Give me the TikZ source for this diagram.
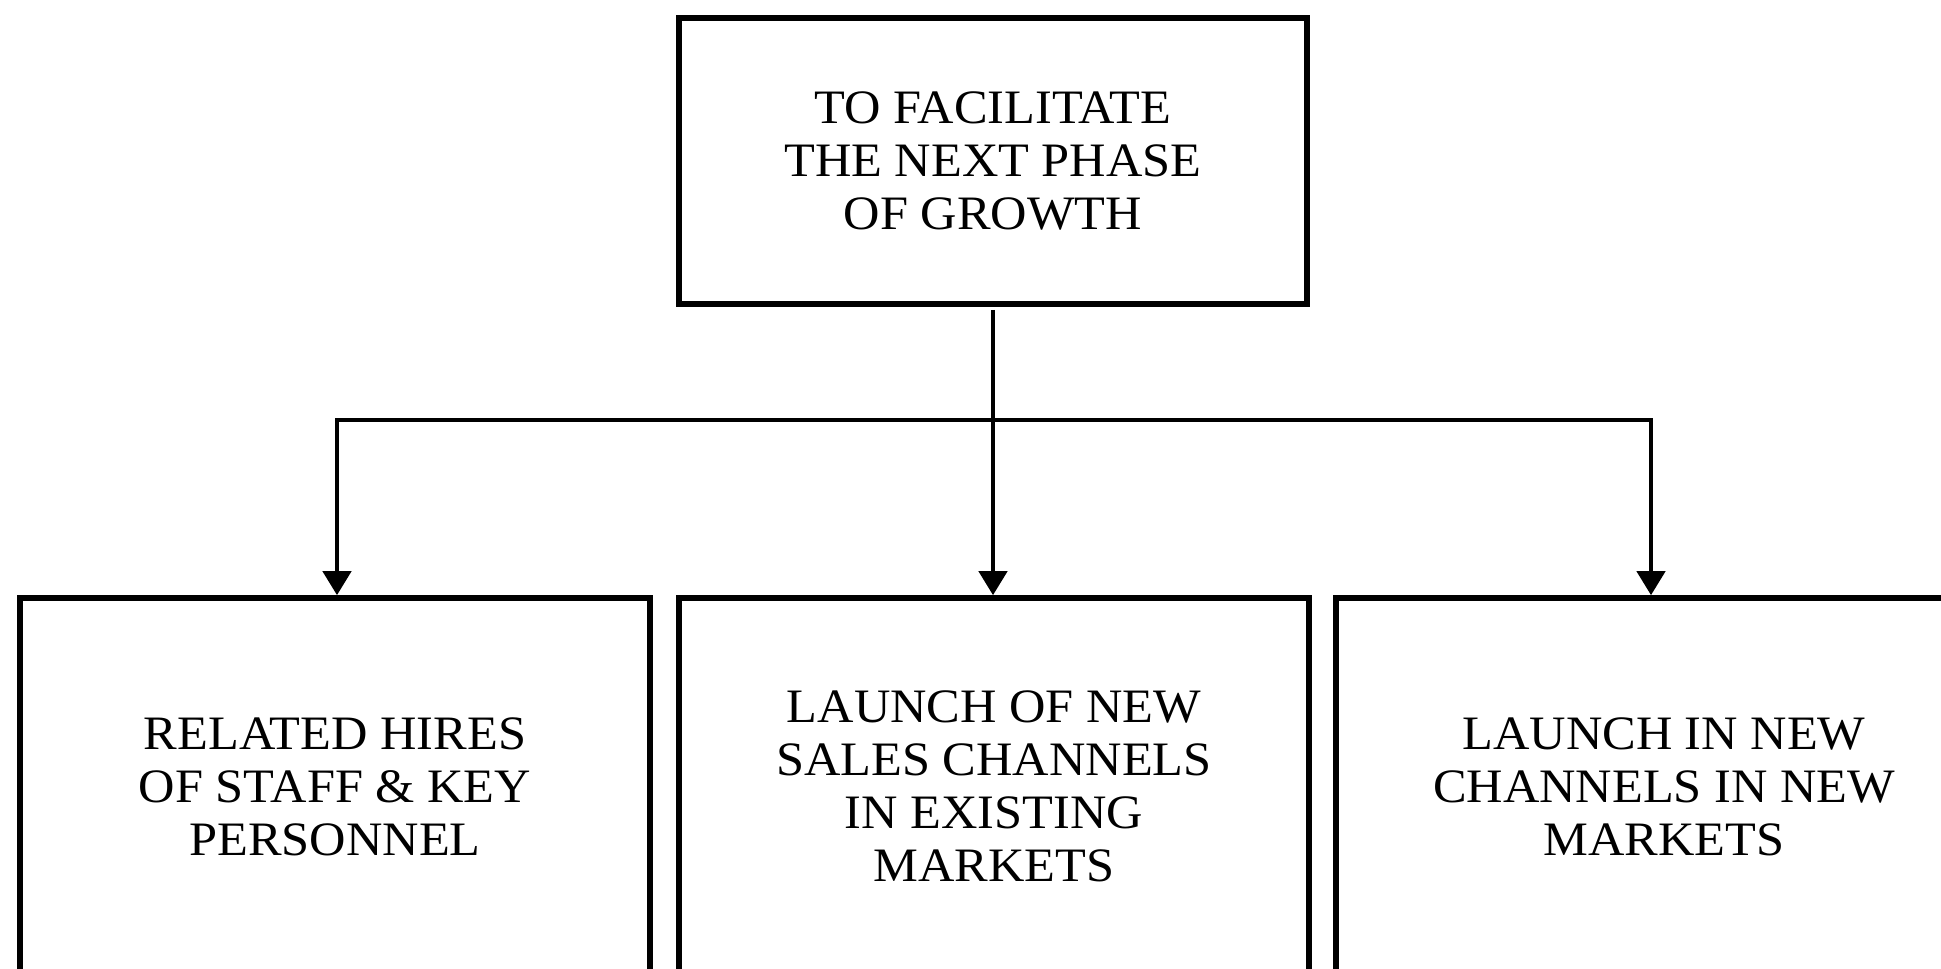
\documentclass[tikz,border=0pt]{standalone}
\usepackage{fontspec}
\setmainfont[FakeStretch=1.05]{Liberation Serif}
\usetikzlibrary{arrows.meta}
\begin{document}
\begin{tikzpicture}[x=0.5pt,y=-0.5pt,
  box/.style={draw, line width=2.8pt, rectangle, align=center, inner sep=0pt,
    font=\fontsize{24}{26.5}\selectfont, text=black},
  conn/.style={line width=2.2pt, line cap=rect},
  arr/.style={line width=2.2pt, -{Triangle[length=12pt,width=14pt]}}]
\clip (0,0) rectangle (1941,968);
\fill[white] (0,0) rectangle (1941,968);
\node[box, minimum width=314pt, minimum height=143pt] (top) at (993,161)
  {TO FACILITATE\\THE NEXT PHASE\\OF GROWTH};
\node[box, minimum width=315pt, minimum height=188.5pt] (left) at (335,786.5)
  {RELATED HIRES\\OF STAFF \& KEY\\PERSONNEL};
\node[box, minimum width=315pt, minimum height=188.5pt] (mid) at (994,786.5)
  {LAUNCH OF NEW\\SALES CHANNELS\\IN EXISTING\\MARKETS};
\node[box, minimum width=328pt, minimum height=188.5pt] (right) at (1664,786.5)
  {LAUNCH IN NEW\\CHANNELS IN NEW\\MARKETS};
\coordinate (bl) at (337,420);
\coordinate (br) at (1651,420);
\draw[arr, shorten <=1.5pt] (top.south) -- (top.south |- mid.north);
\draw[conn] (bl) -- (br);
\draw[arr] (bl) -- (bl |- left.north);
\draw[arr] (br) -- (br |- right.north);
\end{tikzpicture}
\end{document}
